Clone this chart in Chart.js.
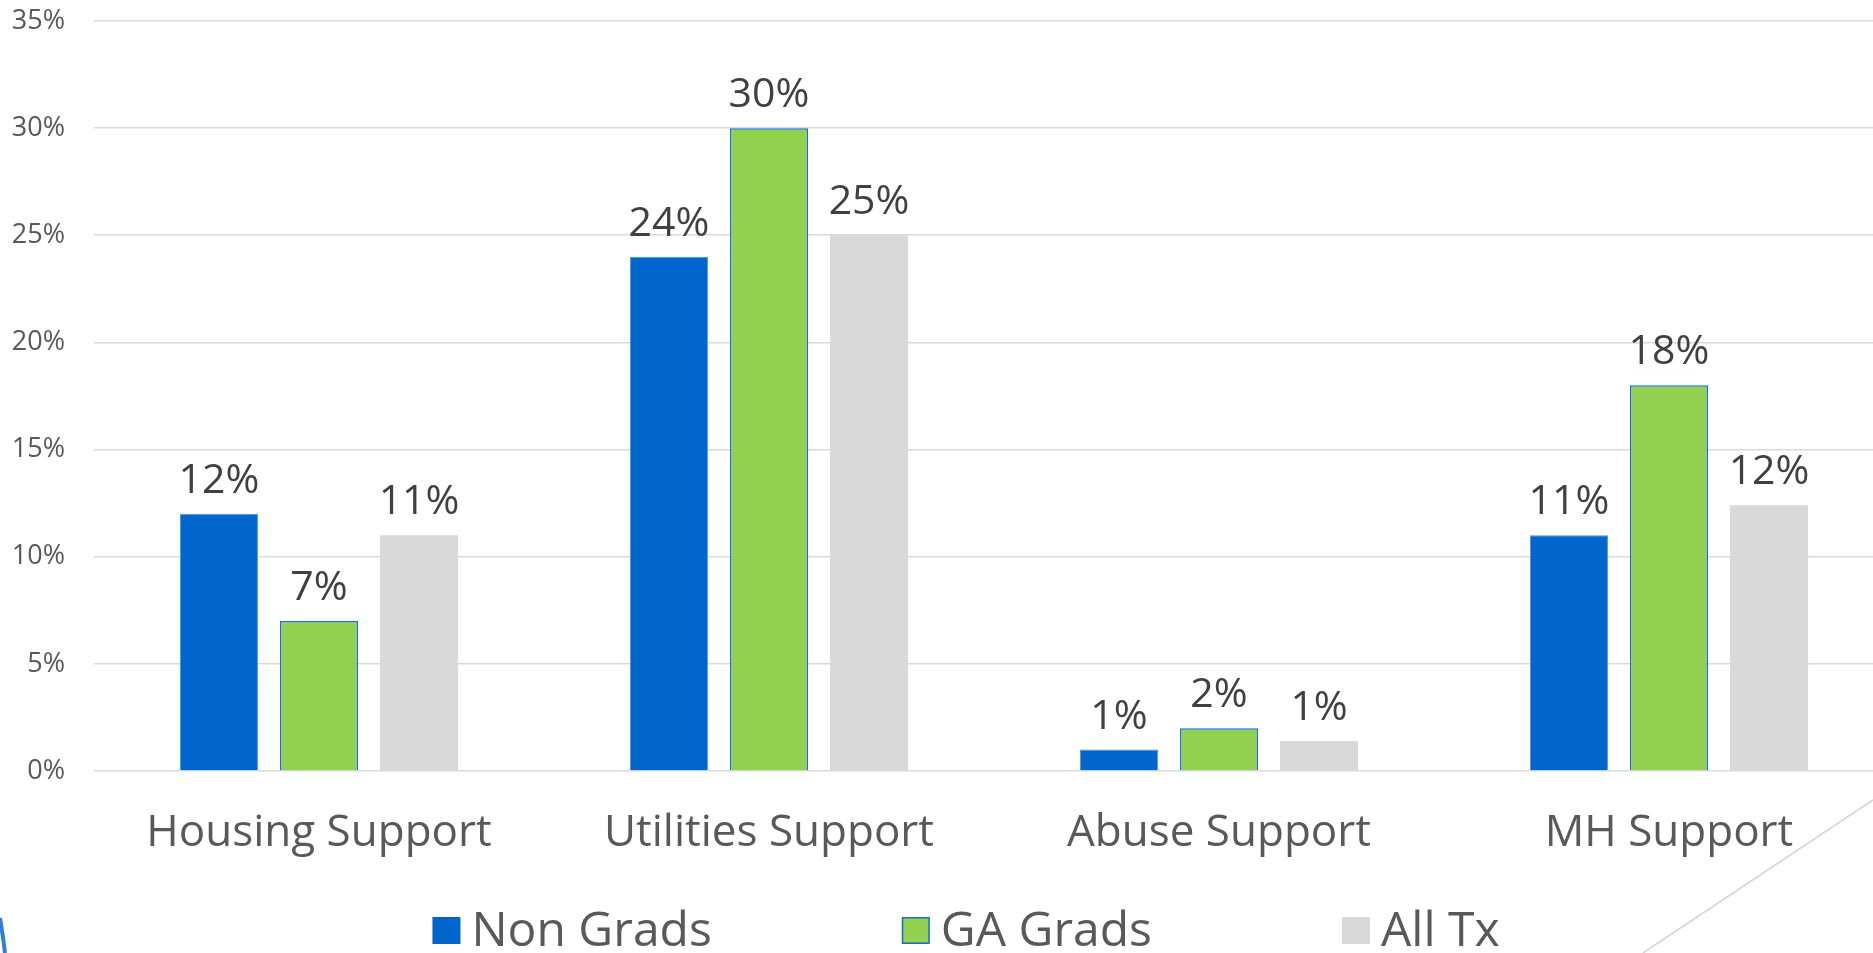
<!DOCTYPE html>
<html>
<head>
<meta charset="utf-8">
<script src="https://cdn.jsdelivr.net/npm/chart.js@4.4.1/dist/chart.umd.min.js"></script>
<style>
  html, body { margin: 0; padding: 0; background: #ffffff; overflow: hidden; width: 1873px; height: 953px; }
  #wrap { position: absolute; left: 0; top: 0; width: 1894px; height: 953px; }
  #deco { position: absolute; left: 0; top: 0; width: 1873px; height: 953px; pointer-events: none; }
</style>
</head>
<body>
<div id="wrap"><canvas id="chart"></canvas></div>
<svg id="deco" width="1873" height="953" xmlns="http://www.w3.org/2000/svg">
  <path d="M 0 918 Q 3 936 5 953" stroke="#2f7fd4" stroke-width="4" fill="none"/>
  <line x1="1873" y1="800" x2="1643" y2="953" stroke="#d6d6d6" stroke-width="1.6"/>
</svg>
<script>
const categories = ['Housing Support', 'Utilities Support', 'Abuse Support', 'MH Support'];
const seriesNames = ['Non Grads', 'GA Grads', 'All Tx'];
const nonGrads = [12, 24, 1, 11];
const gaGrads = [7, 30, 2, 18];
const allTx = [11, 25, 1.4, 12.4];
const yTickValues = [0, 5, 10, 15, 20, 25, 30, 35];

const FONT = '"Open Sans", "Noto Sans", sans-serif';
const GREEN_BORDER = '#1a6fd1';

const dataLabelPlugin = {
  id: 'dataLabels',
  afterDatasetsDraw(chart) {
    const ctx = chart.ctx;
    ctx.save();
    ctx.font = '41px ' + FONT;
    ctx.fillStyle = '#404040';
    ctx.textAlign = 'center';
    ctx.textBaseline = 'alphabetic';
    chart.data.datasets.forEach((ds, di) => {
      const meta = chart.getDatasetMeta(di);
      meta.data.forEach((el, i) => {
        const v = ds.data[i];
        ctx.fillText(Math.round(v) + '%', el.x, el.y - 21);
      });
    });
    ctx.restore();
  }
};

// Legend drawn below the axis labels, centred on the page, from the datasets
const bottomLegendPlugin = {
  id: 'bottomLegend',
  afterDraw(chart) {
    const ctx = chart.ctx;
    ctx.save();
    ctx.font = '48px ' + FONT;
    const boxW = 28, boxH = 27, gapText = 11, gapItem = 190;
    const items = chart.data.datasets.map((ds, i) => ({
      text: ds.label, fill: ds.backgroundColor,
      stroke: i === 1 ? GREEN_BORDER : null, w: ctx.measureText(ds.label).width
    }));
    const total = items.reduce((s, it) => s + boxW + gapText + it.w, 0) + gapItem * (items.length - 1);
    let x = 966 - total / 2;
    const boxTop = 917, baseline = 946;
    items.forEach(it => {
      ctx.fillStyle = it.fill;
      ctx.fillRect(x, boxTop, boxW, boxH);
      if (it.stroke) {
        ctx.strokeStyle = it.stroke;
        ctx.lineWidth = 1.5;
        ctx.strokeRect(x + 0.75, boxTop + 0.75, boxW - 1.5, boxH - 1.5);
      }
      ctx.fillStyle = '#595959';
      ctx.textAlign = 'left';
      ctx.textBaseline = 'alphabetic';
      ctx.fillText(it.text, x + boxW + gapText, baseline);
      x += boxW + gapText + it.w + gapItem;
    });
    ctx.restore();
  }
};

new Chart(document.getElementById('chart'), {
  type: 'bar',
  data: {
    labels: categories,
    datasets: [
      { label: seriesNames[0], data: nonGrads, backgroundColor: '#0066CC', borderColor: '#4d94db', borderWidth: 1,
        categoryPercentage: 0.667, barPercentage: 0.78 },
      { label: seriesNames[1], data: gaGrads, backgroundColor: '#92D050', borderColor: GREEN_BORDER, borderWidth: 1.5,
        categoryPercentage: 0.667, barPercentage: 0.78 },
      { label: seriesNames[2], data: allTx, backgroundColor: '#D9D9D9', borderColor: '#D9D9D9', borderWidth: 0,
        categoryPercentage: 0.667, barPercentage: 0.78 }
    ]
  },
  options: {
    responsive: true,
    maintainAspectRatio: false,
    animation: false,
    devicePixelRatio: 1,
    layout: { padding: { left: 0, right: 0, top: 21, bottom: 57 } },
    plugins: {
      tooltip: { enabled: false },
      legend: { display: false }
    },
    scales: {
      x: {
        grid: { display: false, drawTicks: false },
        border: { display: false },
        ticks: { color: '#595959', font: { family: FONT, size: 44 }, padding: 36, maxRotation: 0 },
        afterFit(scale) { scale.height = 125; scale.paddingLeft = 0; scale.paddingRight = 0; }
      },
      y: {
        min: 0,
        max: 35,
        afterBuildTicks(scale) { scale.ticks = yTickValues.map(v => ({ value: v })); },
        grid: { color: '#d9d9d9', lineWidth: 1.6, drawTicks: false },
        border: { display: false },
        ticks: { color: '#595959', font: { family: FONT, size: 27 }, padding: 29, callback: v => v + '%' },
        afterFit(scale) { scale.width = 94; scale.paddingTop = 0; scale.paddingBottom = 0; }
      }
    }
  },
  plugins: [dataLabelPlugin, bottomLegendPlugin]
});
</script>
</body>
</html>
